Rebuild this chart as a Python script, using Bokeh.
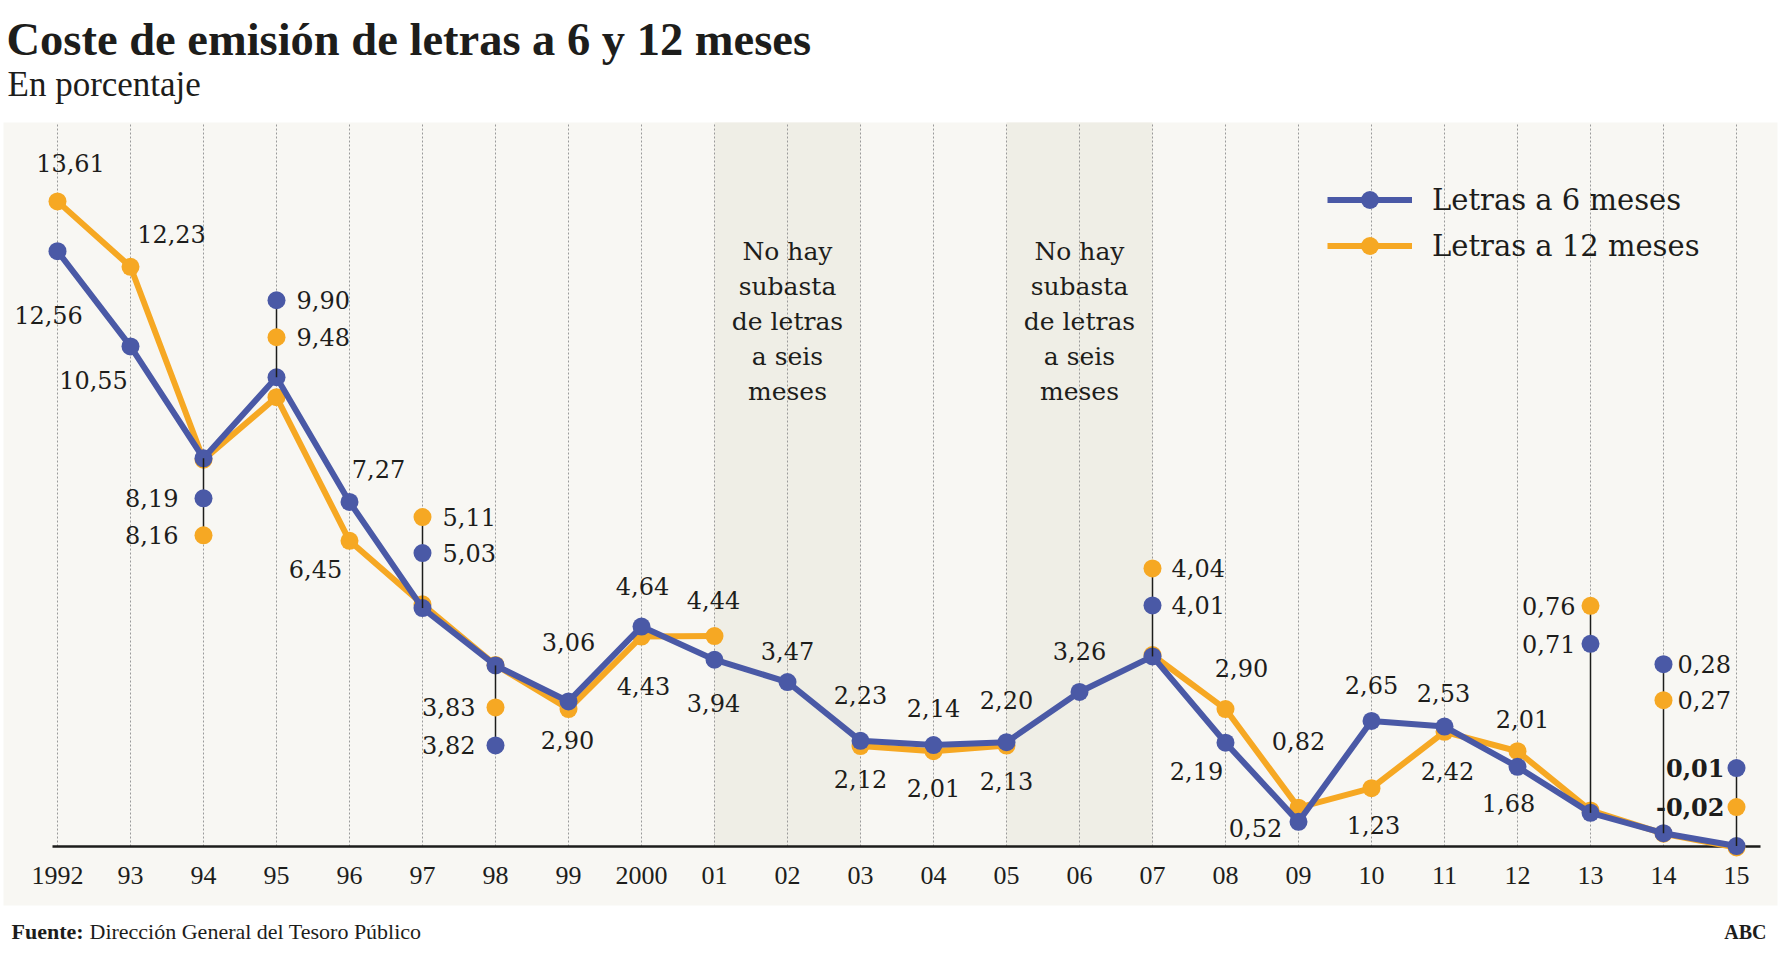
from bokeh.plotting import figure
from bokeh.models import (Range1d, Legend, LegendItem, BoxAnnotation,
                          ColumnDataSource)
from bokeh.core.properties import value
from bokeh.embed import file_html
from bokeh.resources import INLINE

# ---------------- data ----------------
years = list(range(1992, 2016))
tick_labels = ["1992", "93", "94", "95", "96", "97", "98", "99", "2000", "01",
               "02", "03", "04", "05", "06", "07", "08", "09", "10", "11",
               "12", "13", "14", "15"]
letras_6 = [12.56, 10.55, 8.19, 9.90, 7.27, 5.03, 3.82, 3.06, 4.64, 3.94,
            3.47, 2.23, 2.14, 2.20, 3.26, 4.01, 2.19, 0.52, 2.65, 2.53,
            1.68, 0.71, 0.28, 0.01]
letras_12 = [13.61, 12.23, 8.16, 9.48, 6.45, 5.11, 3.83, 2.90, 4.43, 4.44,
             None, 2.12, 2.01, 2.13, None, 4.04, 2.90, 0.82, 1.23, 2.42,
             2.01, 0.76, 0.27, -0.02]
no_auction_years = [2002, 2006]
note_text = "No hay\nsubasta\nde letras\na seis\nmeses"
title_text = "Coste de emisión de letras a 6 y 12 meses"
subtitle_text = "En porcentaje"
source_label = "Fuente:"
source_text = "Dirección General del Tesoro Público"
brand_text = "ABC"
name_6 = "Letras a 6 meses"
name_12 = "Letras a 12 meses"

# ---------------- layout / style ----------------
W, H = 1790, 973
PANEL_L, PANEL_R, PANEL_T, PANEL_B = 3, 1777, 122, 905   # beige panel (px)
X0_PX, PPX = 57.0, 73.0      # pixel of first year, pixels per year
Y0_PX, PPU = 846.0, 47.4     # pixel of value 0, pixels per unit

BLUE = "#4a59a6"
ORANGE = "#f6a823"
BG = "#f8f7f3"
BAND = "#efeee6"
INK = "#1d1d1b"
GRID = "#9a9a9a"
LABEL_FONT = "DejaVu Serif"
HEAD_FONT = "Liberation Serif"
LABEL_SIZE = "24px"

# label placements: year -> (dx px, dy px) from the point (dy>0 = lower)
LAB6 = {1992: (-9, 64), 1993: (-37, 34), 1996: (29, -33), 1999: (0, -59),
        2000: (1, -41), 2001: (-1, 43), 2002: (0, -31), 2003: (0, -46),
        2004: (0, -37), 2005: (0, -42), 2006: (0, -41), 2008: (-29, 28),
        2009: (-43, 6), 2010: (0, -36), 2011: (-1, -34), 2012: (-9, 36)}
LAB12 = {1992: (13, -38), 1993: (41, -33), 1996: (-34, 28), 1999: (-1, 31),
         2000: (2, 49), 2001: (-1, -36), 2003: (0, 33), 2004: (0, 37),
         2005: (0, 35), 2008: (16, -41), 2009: (0, -67), 2010: (2, 37),
         2011: (3, 39), 2012: (5, -32)}
# callouts: year -> (label side, blue dot dy px, orange dot dy px, label gap px)
CALLOUTS = {1994: ("left", 40, 77, 25), 1995: ("right", -77, -40, 20),
            1997: ("right", -55, -91, 20), 1998: ("left", 80, 42, 20),
            2007: ("right", -51, -88, 19), 2013: ("left", -169, -207, 15),
            2014: ("right", -169, -133, 14), 2015: ("left", -78, -39, 12)}
BOLD_CALLOUTS = [2015]

# the plotting frame covers the whole canvas
x_start = years[0] - X0_PX / PPX
x_end = x_start + W / PPX
y_start = -(H - Y0_PX) / PPU
y_end = Y0_PX / PPU


def px_x(px):
    return x_start + px / PPX


def px_y(py):
    return (Y0_PX - py) / PPU


def fmt(v):
    return f"{v:.2f}".replace(".", ",")


def nan(v):
    return float("nan") if v is None else v


p = figure(width=W, height=H, x_range=Range1d(x_start, x_end),
           y_range=Range1d(y_start, y_end), output_backend="svg",
           toolbar_location=None, x_axis_location=None, y_axis_location=None,
           min_border=0, background_fill_color="white",
           border_fill_color="white", outline_line_color=None)
p.xgrid.visible = False
p.ygrid.visible = False

# beige panel
p.add_layout(BoxAnnotation(left=px_x(PANEL_L), right=px_x(PANEL_R),
                           top=px_y(PANEL_T), bottom=px_y(PANEL_B),
                           fill_color=BG, fill_alpha=1, line_color=None,
                           level="underlay"))
# shaded bands (years without auction)
for yr in no_auction_years:
    p.add_layout(BoxAnnotation(left=yr - 1, right=yr + 1, bottom=0,
                               top=px_y(PANEL_T), fill_color=BAND,
                               fill_alpha=1, line_color=None,
                               level="underlay"))

# dotted vertical grid from 0 to the panel top
p.segment(x0=years, x1=years, y0=[0] * len(years),
          y1=[px_y(PANEL_T)] * len(years),
          line_color=GRID, line_width=1, line_dash="2 2")
# baseline
p.segment(x0=[years[0] - 5 / PPX], x1=[years[-1] + 24 / PPX], y0=[0], y1=[0],
          line_color=INK, line_width=2.5)
# year labels
p.text(x=years, y=[px_y(875)] * len(years), text=tick_labels,
       text_align="center", text_baseline="middle",
       text_font=value(HEAD_FONT), text_font_size="26px", text_color=INK)

# notes
p.text(x=no_auction_years, y=[px_y(321)] * len(no_auction_years),
       text=[note_text] * len(no_auction_years), text_align="center",
       text_baseline="middle", text_font=value(LABEL_FONT),
       text_font_size="25px", text_color=INK, text_line_height=1.21)

# series
v12 = [nan(v) for v in letras_12]
l12 = p.line(years, v12, line_color=ORANGE, line_width=6)
s12 = p.scatter(years, v12, size=18, fill_color=ORANGE, line_color=None)
l6 = p.line(years, letras_6, line_color=BLUE, line_width=6)
s6 = p.scatter(years, letras_6, size=18, fill_color=BLUE, line_color=None)


# direct labels
def label_cols(vals, offs):
    xs, ys, ts = [], [], []
    for yr, v in zip(years, vals):
        if yr in offs and v is not None:
            dx, dy = offs[yr]
            xs.append(yr + dx / PPX)
            ys.append(v - dy / PPU)
            ts.append(fmt(v))
    return dict(x=xs, y=ys, t=ts)


for cols in (label_cols(letras_6, LAB6), label_cols(letras_12, LAB12)):
    p.text(x="x", y="y", text="t", source=ColumnDataSource(cols),
           text_align="center", text_baseline="middle",
           text_font=value(LABEL_FONT), text_font_size=LABEL_SIZE,
           text_color=INK)

# callouts
cx, cy0, cy1 = [], [], []
dots = {"x": [], "y": [], "c": []}
labs = {}
for yr, (side, dy6, dy12, gap) in CALLOUTS.items():
    i = years.index(yr)
    piv = letras_6[i]
    y6 = piv - dy6 / PPU
    y12 = piv - dy12 / PPU
    far = y6 if abs(dy6) > abs(dy12) else y12
    cx.append(yr); cy0.append(piv); cy1.append(far)
    dots["x"] += [yr, yr]; dots["y"] += [y6, y12]; dots["c"] += [BLUE, ORANGE]
    key = (side, yr in BOLD_CALLOUTS)
    d = labs.setdefault(key, {"x": [], "y": [], "t": []})
    sign = -1 if side == "left" else 1
    for yy, v in ((y6, letras_6[i]), (y12, letras_12[i])):
        d["x"].append(yr + sign * gap / PPX)
        d["y"].append(yy)
        d["t"].append(fmt(v))

p.segment(x0=cx, x1=cx, y0=cy0, y1=cy1, line_color=INK, line_width=1.5)
p.scatter(x="x", y="y", fill_color="c", line_color=None, size=18,
          source=ColumnDataSource(dots))
for (side, bold), d in labs.items():
    p.text(x="x", y="y", text="t", source=ColumnDataSource(d),
           text_align="right" if side == "left" else "left",
           text_baseline="middle", text_font=value(LABEL_FONT),
           text_font_size=LABEL_SIZE, text_color=INK,
           text_font_style="bold" if bold else "normal")

# legend (location measured from the bottom-left of the frame)
legend = Legend(items=[LegendItem(label=name_6, renderers=[l6, s6]),
                       LegendItem(label=name_12, renderers=[l12, s12])],
                location=(1327, 705), orientation="vertical",
                glyph_width=85, glyph_height=45, label_height=45,
                label_standoff=20, spacing=1, padding=0, margin=0,
                background_fill_alpha=0, border_line_color=None,
                label_text_font=LABEL_FONT, label_text_font_size="29px",
                label_text_color=INK)
p.add_layout(legend)


# heading and footer texts (y = vertical centre of the capitals)
def head_text(text, x_px, y_px, size, style="normal", align="left"):
    p.text(x=[px_x(x_px)], y=[px_y(y_px)], text=[text],
           text_font=value(HEAD_FONT), text_font_size=size,
           text_font_style=style, text_color=INK, text_align=align,
           text_baseline="middle")


head_text(title_text, 6, 39, "46.5px", style="bold")
head_text(subtitle_text, 7, 84, "35px")
head_text(source_label, 11, 931, "22px", style="bold")
head_text(source_text, 89, 931, "22px")
head_text(brand_text, 1766, 931, "20px", style="bold", align="right")

open("out.html", "w").write(file_html(p, INLINE))
